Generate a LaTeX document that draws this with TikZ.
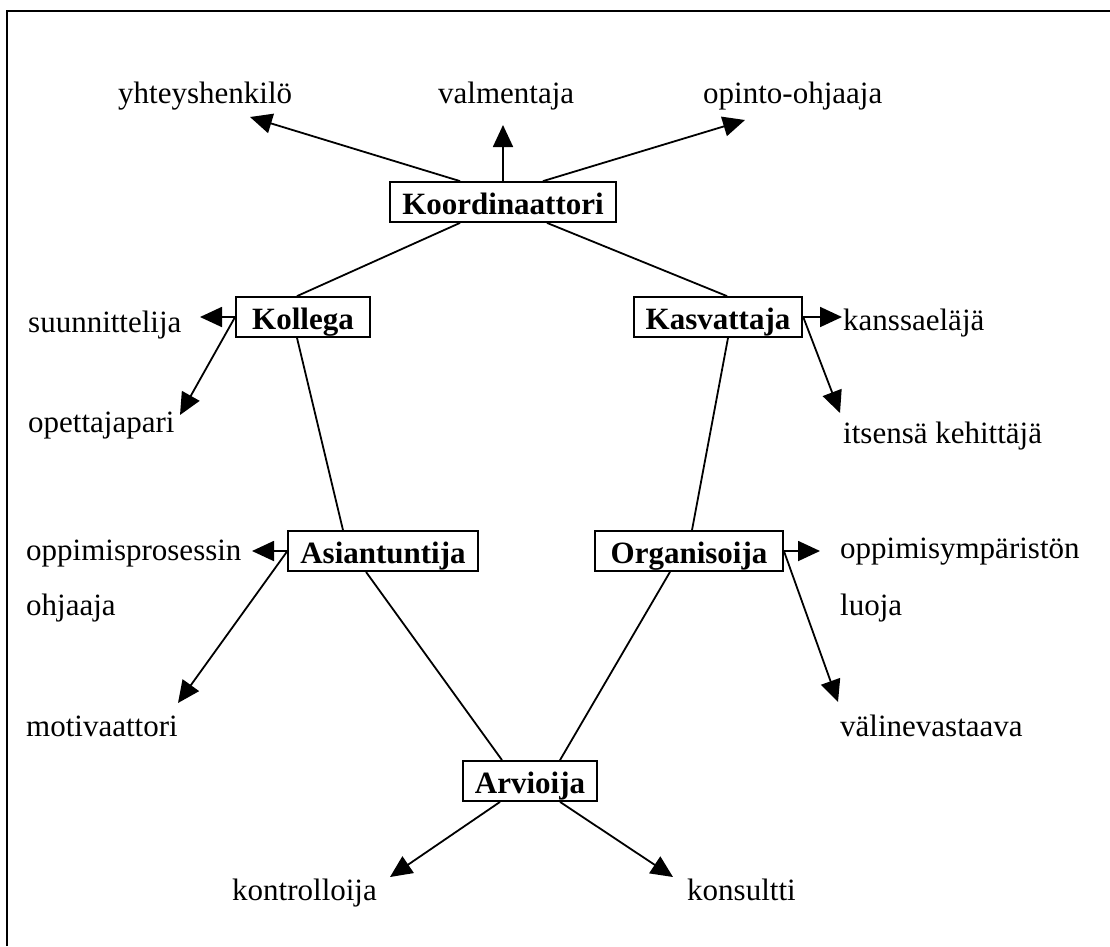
\documentclass[tikz,border=0pt]{standalone}
\usepackage{fontspec}
\setmainfont{Liberation Serif}
\usetikzlibrary{arrows.meta,positioning}
\begin{document}
\begin{tikzpicture}[x=1pt,y=-1pt,
	every node/.style={font=\fontsize{31}{37}\selectfont},
	role/.style={draw,line width=1.8pt,font=\fontsize{31}{37}\selectfont\bfseries,inner xsep=12pt,inner ysep=3pt,text height=29pt,text depth=5pt},
	duty/.style={anchor=base west,inner sep=0pt},
	link/.style={line width=1.8pt},
	point/.style={line width=1.8pt,-{Triangle[length=22pt,width=20pt]}}]
	\useasboundingbox (0,0) rectangle (1110,946);
	\draw[line width=2.5pt] (7,946) -- (7,11) -- (1110,11);
	\node[role] (koord) at (503,202) {Koordinaattori};
	\node[role,minimum width=134pt] (kollega) at (303,317) {Kollega};
	\node[role] (kasv) at (718,317) {Kasvattaja};
	\node[role] (asian) at (383,551) {Asiantuntija};
	\node[role,minimum width=188pt] (organ) at (689,551) {Organisoija};
	\node[role] (arvio) at (530,781) {Arvioija};
	\node[duty] (yhteys) at (118,103) {yhteyshenkilö};
	\node[duty] (valm) at (438,103) {valmentaja};
	\node[duty] (opinto) at (703,103) {opinto-ohjaaja};
	\node[duty] (suun) at (28,332) {suunnittelija};
	\node[duty] (opet) at (28,432) {opettajapari};
	\node[duty] (kanssa) at (843,330) {kanssaeläjä};
	\node[duty] (itsensa) at (843,443) {itsensä kehittäjä};
	\node[duty] (prosessi) at (26,560) {oppimisprosessin};
	\node[duty] (ohjaaja) at (26,615) {ohjaaja};
	\node[duty] (motiv) at (26,736) {motivaattori};
	\node[duty] (ymparisto) at (840,558) {oppimisympäristön};
	\node[duty] (luoja) at (840,615) {luoja};
	\node[duty] (valine) at (840,736) {välinevastaava};
	\node[duty] (kontr) at (232,900) {kontrolloija};
	\node[duty] (konsul) at (687,900) {konsultti};
	\coordinate (yhteys-t) at (250,117);
	\coordinate (valm-t) at (503,125);
	\coordinate (opinto-t) at (745,120);
	\coordinate (suun-t) at (200,317);
	\coordinate (opet-t) at (180,415);
	\coordinate (kanssa-t) at (842,317);
	\coordinate (itsensa-t) at (840,413);
	\coordinate (prosessi-t) at (252,551);
	\coordinate (motiv-t) at (178,703);
	\coordinate (ymparisto-t) at (820,551);
	\coordinate (valine-t) at (838,702);
	\coordinate (kontr-t) at (390,877);
	\coordinate (konsul-t) at (673,877);
	\draw[point] ([xshift=-43pt]koord.north) -- (yhteys-t);
	\draw[point] (koord.north) -- (valm-t);
	\draw[point] ([xshift=40pt]koord.north) -- (opinto-t);
	\draw[link] ([xshift=-43pt]koord.south) -- ([xshift=-6pt]kollega.north);
	\draw[link] ([xshift=44pt]koord.south) -- ([xshift=9pt]kasv.north);
	\draw[point] (kollega.west) -- (suun-t);
	\draw[point] (kollega.west) -- (opet-t);
	\draw[point] (kasv.east) -- (kanssa-t);
	\draw[point] (kasv.east) -- (itsensa-t);
	\draw[link] ([xshift=-6pt]kollega.south) -- ([xshift=-40pt]asian.north);
	\draw[link] ([xshift=10pt]kasv.south) -- ([xshift=3pt]organ.north);
	\draw[point] (asian.west) -- (prosessi-t);
	\draw[point] (asian.west) -- (motiv-t);
	\draw[point] (organ.east) -- (ymparisto-t);
	\draw[point] (organ.east) -- (valine-t);
	\draw[link] ([xshift=-17pt]asian.south) -- ([xshift=-28pt]arvio.north);
	\draw[link] ([xshift=-19pt]organ.south) -- ([xshift=30pt]arvio.north);
	\draw[point] ([xshift=-30pt]arvio.south) -- (kontr-t);
	\draw[point] ([xshift=30pt]arvio.south) -- (konsul-t);
\end{tikzpicture}
\end{document}
